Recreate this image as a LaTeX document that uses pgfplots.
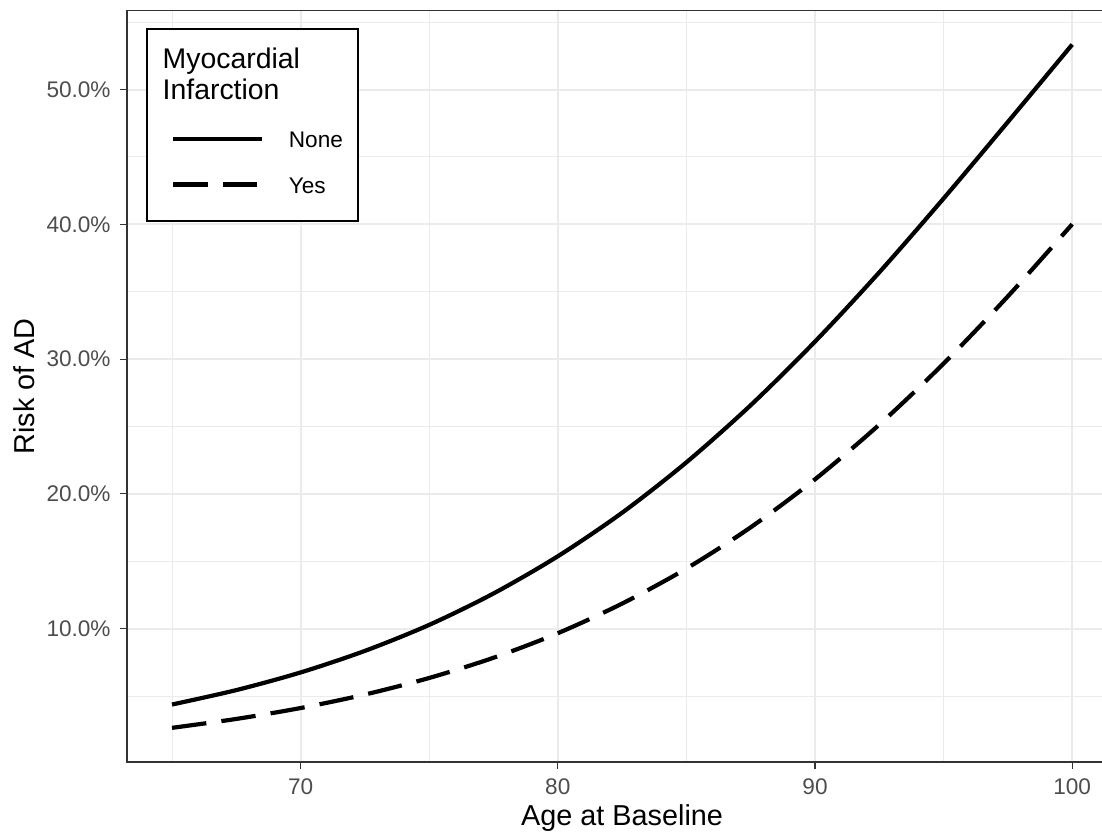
\documentclass[border=0pt]{standalone}
\usepackage{fontspec}
\setmainfont{Liberation Sans}
\usepackage{pgfplots}
\pgfplotsset{compat=1.18}
\definecolor{gridgray}{HTML}{EBEBEB}
\definecolor{axisgray}{HTML}{333333}
\definecolor{ticktext}{HTML}{4D4D4D}
\begin{document}
\begin{tikzpicture}
\path[use as bounding box] (-63.5pt,-36pt) rectangle (487.5pt,381pt);
\clip (-63.5pt,-36pt) rectangle (487.5pt,381pt);
\begin{axis}[
  scale only axis, width=495.1pt, height=375.8pt,
  xmin=63.25, xmax=101.75, ymin=0.105, ymax=55.875,
  xtick={70,80,90,100}, xticklabels={70,80,90,100},
  ytick={10,20,30,40,50}, yticklabels={10.0\%,20.0\%,30.0\%,40.0\%,50.0\%},
  minor xtick={65,75,85,95}, minor ytick={5,15,25,35,45,55},
  grid=both,
  major grid style={draw=gridgray, line width=1pt},
  minor grid style={draw=gridgray, line width=0.5pt},
  tick align=outside, major tick length=3.5pt, minor tick length=0pt,
  xtick pos=left, ytick pos=left,
  tick style={draw=axisgray, line width=0.6pt},
  axis line style={draw=axisgray, line width=0.6pt},
  every tick label/.append style={font=\fontsize{11.3}{13}\selectfont, text=ticktext, inner sep=0pt},
  xticklabel shift=4.5pt, yticklabel shift=4.5pt,
  xlabel={Age at Baseline}, ylabel={Risk of AD},
  every axis x label/.style={at={([yshift=-21.3pt]axis description cs:0.5,0)}, anchor=north, inner sep=0pt, font=\fontsize{14.4}{16}\selectfont},
  every axis y label/.style={at={([xshift=-57pt]axis description cs:0,0.5)}, rotate=90, anchor=north, inner sep=0pt, font=\fontsize{14.4}{16}\selectfont},
  legend cell align=left,
  legend style={draw=none, fill=none, inner sep=0pt, at={(axis description cs:0.04393,0.8391)}, anchor=north west,
    nodes={inner sep=0pt, text height=8pt, text depth=0pt, anchor=base west, font=\fontsize{11.3}{13}\selectfont},
    row sep=14.65pt, column sep=12.4pt},
  legend image code/.code={\draw[#1] (0pt,4.3pt) -- (44.5pt,4.3pt);},
]
\draw[fill=white, draw=black, line width=0.75pt] ([xshift=10pt,yshift=270.5pt]axis description cs:0,0) rectangle ([xshift=115.5pt,yshift=366.5pt]axis description cs:0,0);
\node[anchor=base west, inner sep=0pt, font=\fontsize{14.2}{16}\selectfont] at ([xshift=17.65pt,yshift=346.85pt]axis description cs:0,0) {Myocardial};
\node[anchor=base west, inner sep=0pt, font=\fontsize{14.2}{16}\selectfont] at ([xshift=17.65pt,yshift=331.35pt]axis description cs:0,0) {Infarction};
\addplot[black, line width=2.1pt, smooth] coordinates {
 (65,4.37) (67.5,5.44) (70,6.75) (72.5,8.35) (75,10.28) (77.5,12.61) (80,15.37)
 (82.5,18.60) (85,22.34) (87.5,26.58) (90,31.30) (92.5,36.44) (95,41.92) (97.5,47.60) (100,53.34)};
\addlegendentry{None}
\addplot[black, line width=2.1pt, smooth, dash pattern=on 17.3pt off 7.6pt] coordinates {
 (65,2.64) (67.5,3.30) (70,4.11) (72.5,5.11) (75,6.34) (77.5,7.84) (80,9.66)
 (82.5,11.86) (85,14.46) (87.5,17.52) (90,21.08) (92.5,25.14) (95,29.67) (97.5,34.66) (100,40.01)};
\addlegendentry{Yes}
\end{axis}
\end{tikzpicture}
\end{document}
